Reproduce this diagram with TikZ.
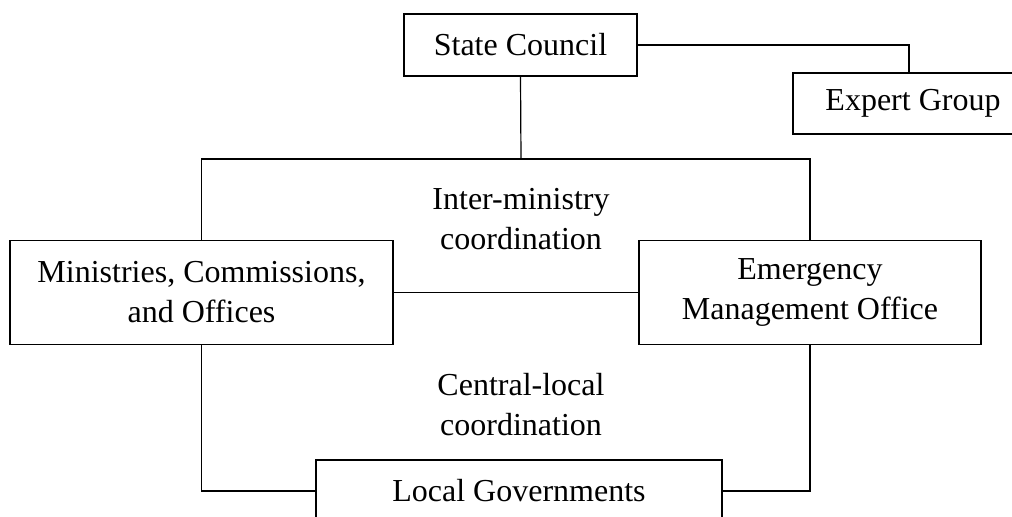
\documentclass[tikz,border=0pt]{standalone}
\usepackage{fontspec}
\setmainfont{Liberation Serif}
\begin{document}
\begin{tikzpicture}[x=0.5pt,y=-0.5pt]
	 \tikzstyle{box}=[draw,line width=0.6pt,black,inner sep=0pt,align=center,font=\fontsize{16}{20}\selectfont]
	 \tikzstyle{label}=[inner sep=0pt,align=center,font=\fontsize{16}{20}\selectfont]
	 \tikzstyle{edge} = [draw,line width=0.6pt,-,black]

	 \useasboundingbox (0,0) rectangle (1012,516);
	 \clip (0,0) rectangle (1012,516);

	 \node[box,minimum width=116.5pt,minimum height=31pt] (council) at (520.5,45) {State Council};
	 \node[box,minimum width=120pt,minimum height=30.5pt] (expert) at (913,103.5) {Expert Group};
	 \node[box,minimum width=191.5pt,minimum height=52pt] (ministries) at (201.5,292.5) {Ministries, Commissions,\\and Offices};
	 \node[box,minimum width=171pt,minimum height=52pt] (emo) at (810,292.5) {Emergency\\Management Office};
	 \node[box,minimum width=203pt,minimum height=31pt] (local) at (519,491) {Local Governments};

	 \node[label] (inter) at (521,219) {Inter-ministry\\coordination};
	 \node[label] (central) at (521,405) {Central-local\\coordination};

	 \coordinate (top) at (521,159);

	 \draw[edge] (council.east) -| ([xshift=-2pt]expert.north);
	 \draw[edge] (council.south) -- (top);
	 \draw[edge] (ministries.north) |- (top) -| (emo.north);
	 \draw[edge] (ministries.east) -- (emo.west);
	 \draw[edge] (ministries.south) |- (local.west);
	 \draw[edge] (emo.south) |- (local.east);
\end{tikzpicture}
\end{document}
